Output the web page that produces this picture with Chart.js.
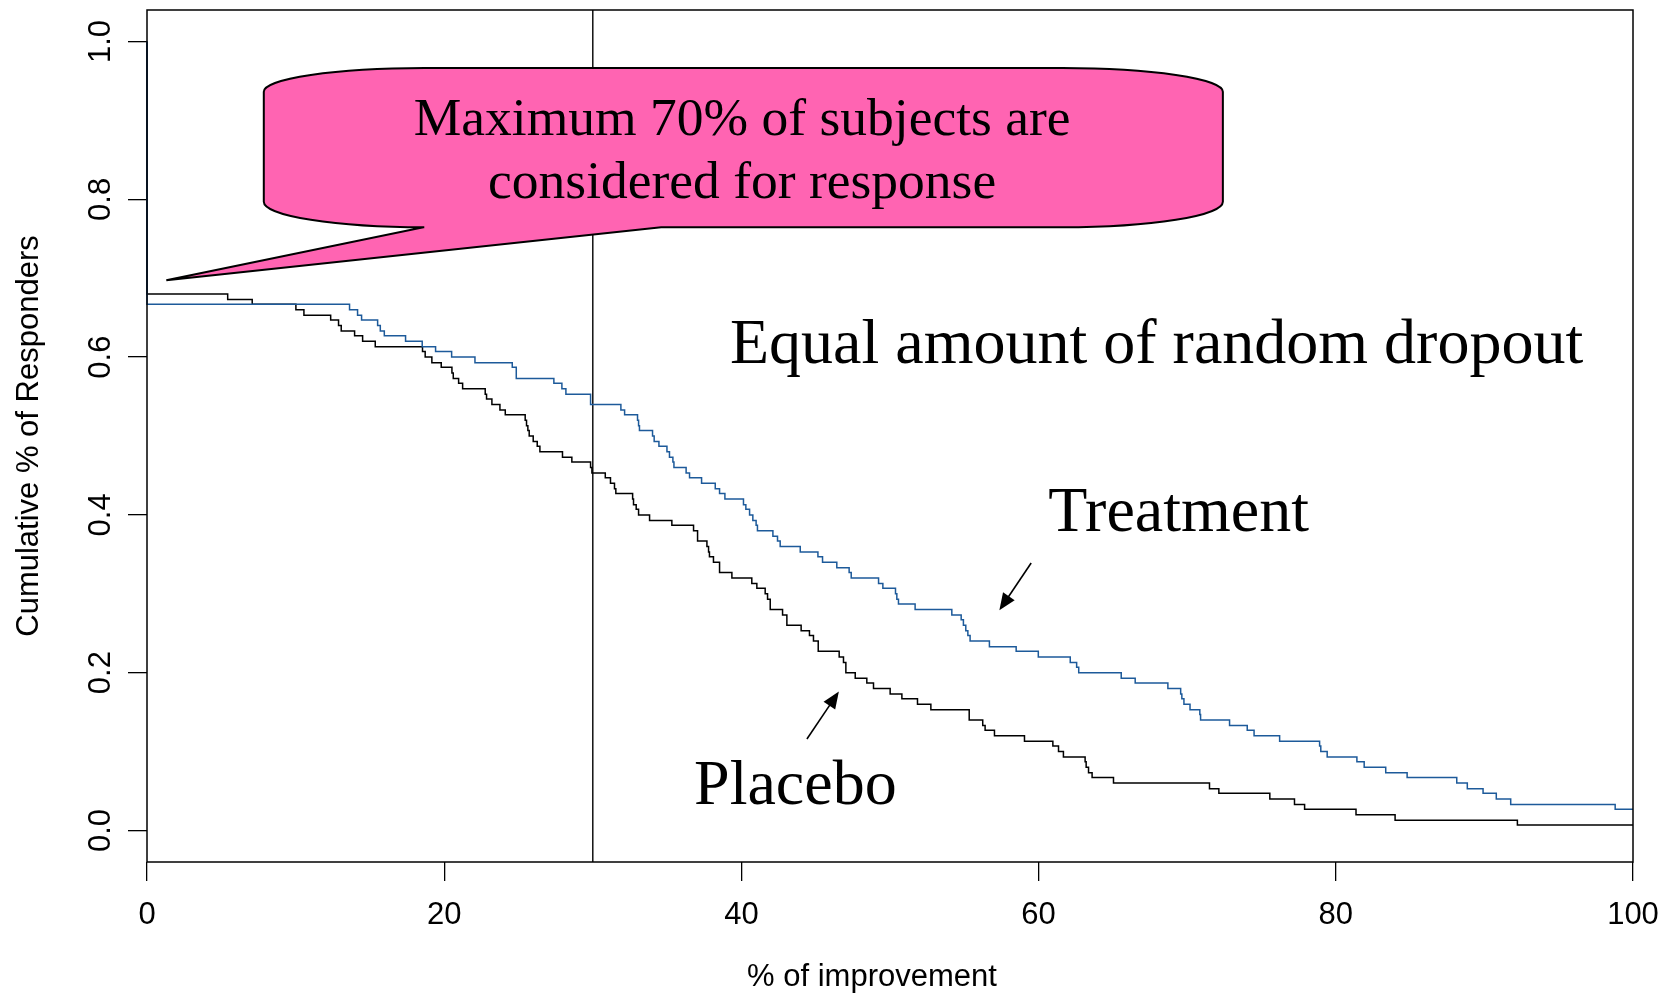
<!DOCTYPE html>
<html>
<head>
<meta charset="utf-8">
<script src="https://cdn.jsdelivr.net/npm/chart.js@4.4.1/dist/chart.umd.min.js"></script>
<style>
  body { margin: 0; background: #fff; }
  #wrap { width: 1667px; height: 993px; }
</style>
</head>
<body>
<div id="wrap"><canvas id="responderChart" width="1667" height="993"></canvas></div>
<script>
// % of improvement at which the cumulative responder proportion steps down
const treatmentX = [0, 0, 13.63, 14.17, 14.44, 15.52, 15.70, 15.97, 17.40, 18.52, 19.42, 20.50, 22.07, 24.58, 24.85,
    27.38, 27.92, 28.19, 29.85, 31.89, 32.14, 33.01, 33.08, 33.14, 34.02, 34.13, 34.45, 34.99, 35.16, 35.39, 35.46,
    36.28, 36.51, 37.32, 38.24, 38.53, 38.89, 40.14, 40.30, 40.55, 40.77, 40.99, 41.08, 42.12, 42.43, 42.61, 43.96,
    45.15, 45.46, 46.42, 47.25, 47.39, 49.23, 49.52, 50.37, 50.46, 50.57, 51.69, 54.16, 54.79, 54.94, 55.10, 55.24,
    55.39, 56.69, 58.49, 59.98, 62.13, 62.56, 62.70, 65.56, 66.50, 68.70, 69.56, 69.64, 69.78, 70.19, 70.85, 70.90,
    72.85, 74.04, 74.50, 76.22, 78.91, 78.99, 79.42, 81.42, 81.91, 83.36, 84.80, 88.14, 88.85, 89.91, 90.80, 91.77,
    98.80, 100];
const treatmentY = [1.000, 0.667, 0.660, 0.653, 0.647, 0.640, 0.633, 0.627, 0.620, 0.613, 0.607, 0.600, 0.593, 0.587, 0.573,
    0.567, 0.560, 0.553, 0.540, 0.533, 0.527, 0.520, 0.513, 0.507, 0.500, 0.493, 0.487, 0.480, 0.473, 0.467, 0.460,
    0.453, 0.447, 0.440, 0.433, 0.427, 0.420, 0.413, 0.407, 0.400, 0.393, 0.387, 0.380, 0.373, 0.367, 0.360, 0.353,
    0.347, 0.340, 0.333, 0.327, 0.320, 0.313, 0.307, 0.300, 0.293, 0.287, 0.280, 0.273, 0.267, 0.260, 0.253, 0.247,
    0.240, 0.233, 0.227, 0.220, 0.213, 0.207, 0.200, 0.193, 0.187, 0.180, 0.173, 0.167, 0.160, 0.153, 0.147, 0.140,
    0.133, 0.127, 0.120, 0.113, 0.107, 0.100, 0.093, 0.087, 0.080, 0.073, 0.067, 0.060, 0.053, 0.047, 0.040, 0.033,
    0.027, 0.027];

const placeboX = [0, 0, 5.43, 7.08, 10.02, 10.56, 12.36, 12.89, 13.07, 13.97, 14.51, 15.36, 18.54, 18.72, 19.17,
    19.80, 20.52, 20.61, 20.97, 21.24, 22.76, 22.85, 23.21, 23.75, 24.11, 25.45, 25.54, 25.63, 25.72, 25.99, 26.26,
    26.44, 27.96, 28.59, 29.85, 29.94, 30.84, 31.19, 31.46, 31.55, 32.68, 32.74, 32.92, 33.08, 33.82, 35.32, 36.78,
    37.05, 37.68, 37.79, 37.85, 38.12, 38.53, 39.36, 40.70, 41.04, 41.60, 41.76, 41.94, 42.77, 43.06, 44.02, 44.58,
    44.85, 45.17, 46.58, 46.87, 47.03, 47.66, 48.44, 48.89, 50.01, 50.80, 51.85, 52.75, 55.33, 56.24, 56.40, 57.03,
    59.05, 60.96, 61.34, 61.67, 63.13, 63.20, 63.36, 63.60, 65.04, 71.50, 72.13, 75.56, 77.22, 77.90, 81.36, 83.99,
    92.22, 100];
const placeboY = [1.000, 0.680, 0.673, 0.667, 0.660, 0.653, 0.647, 0.640, 0.633, 0.627, 0.620, 0.613, 0.607, 0.600, 0.593,
    0.587, 0.580, 0.573, 0.567, 0.560, 0.553, 0.547, 0.540, 0.533, 0.527, 0.520, 0.513, 0.507, 0.500, 0.493, 0.487,
    0.480, 0.473, 0.467, 0.460, 0.453, 0.447, 0.440, 0.433, 0.427, 0.420, 0.413, 0.407, 0.400, 0.393, 0.387, 0.380,
    0.367, 0.360, 0.353, 0.347, 0.340, 0.327, 0.320, 0.313, 0.307, 0.300, 0.293, 0.280, 0.273, 0.260, 0.253, 0.247,
    0.240, 0.227, 0.220, 0.213, 0.200, 0.193, 0.187, 0.180, 0.173, 0.167, 0.160, 0.153, 0.140, 0.133, 0.127, 0.120,
    0.113, 0.107, 0.100, 0.093, 0.087, 0.080, 0.073, 0.067, 0.060, 0.053, 0.047, 0.040, 0.033, 0.027, 0.020, 0.013,
    0.007, 0.007];

const xTicks = [0, 20, 40, 60, 80, 100];
const xTickLabels = ['0', '20', '40', '60', '80', '100'];
const yTicks = [0, 0.2, 0.4, 0.6, 0.8, 1.0];
const yTickLabels = ['0.0', '0.2', '0.4', '0.6', '0.8', '1.0'];

// responder cut-off drawn as a vertical reference line
const cutoff = 30;

const SANS = '"Liberation Sans", Arial, sans-serif';
const SERIF = '"Liberation Serif", "Times New Roman", serif';
const AXIS_FONT = 31;

// callout and labels, placed in data units
const notes = [
    { text: 'Equal amount of random dropout', x: 67.94, y: 0.593 },
    { text: 'Treatment', x: 69.42, y: 0.379 },
    { text: 'Placebo', x: 43.63, y: 0.034 }
];
const arrows = [
    { from: [59.5, 0.339], to: [57.36, 0.279] },
    { from: [44.41, 0.116], to: [46.56, 0.176] }
];
const bubble = {
    left: 7.86, right: 72.4, top: 0.9665, bottom: 0.7645, sideTop: 0.9365, sideBottom: 0.797,
    curve: 10.8, tailLeft: 18.6, tailRight: 34.6, tip: [1.3, 0.6975],
    lines: ['Maximum 70% of subjects are', 'considered for response'],
    textX: 40.05, textY: [0.8815, 0.8015]
};

function toPoints(xs, ys) {
    return xs.map((x, i) => ({ x: x, y: ys[i] }));
}

//draw the cut-off line under the curves
const cutoffLine = {
    id: 'cutoffLine',
    beforeDatasetsDraw(chart) {
        const { ctx, chartArea, scales } = chart;
        const px = scales.x.getPixelForValue(cutoff);
        ctx.save();
        ctx.strokeStyle = '#000';
        ctx.lineWidth = 1.4;
        ctx.beginPath();
        ctx.moveTo(px, chartArea.top);
        ctx.lineTo(px, chartArea.bottom);
        ctx.stroke();
        ctx.restore();
    }
};

function drawArrow(ctx, x1, y1, x2, y2) {
    const ang = Math.atan2(y2 - y1, x2 - x1);
    const len = 17, half = 7;
    ctx.beginPath();
    ctx.moveTo(x1, y1);
    ctx.lineTo(x2 - Math.cos(ang) * len * 0.8, y2 - Math.sin(ang) * len * 0.8);
    ctx.stroke();
    ctx.beginPath();
    ctx.moveTo(x2, y2);
    ctx.lineTo(x2 - Math.cos(ang) * len - Math.sin(ang) * half, y2 - Math.sin(ang) * len + Math.cos(ang) * half);
    ctx.lineTo(x2 - Math.cos(ang) * len + Math.sin(ang) * half, y2 - Math.sin(ang) * len - Math.cos(ang) * half);
    ctx.closePath();
    ctx.fill();
}

//callout bubble, text labels, arrows, box and rotated y tick labels
const annotations = {
    id: 'annotations',
    afterDatasetsDraw(chart) {
        const { ctx, chartArea } = chart;
        const sx = v => chart.scales.x.getPixelForValue(v);
        const sy = v => chart.scales.y.getPixelForValue(v);
        ctx.save();

        // bubble with rounded top and bottom, tail pointing at the 70% level
        const L = sx(bubble.left), R = sx(bubble.right);
        const T = sy(bubble.top), B = sy(bubble.bottom);
        const ST = sy(bubble.sideTop), SB = sy(bubble.sideBottom);
        const rx = sx(bubble.curve) - sx(0);
        const ryT = ST - T, ryB = B - SB;
        ctx.beginPath();
        ctx.moveTo(L, SB);
        ctx.lineTo(L, ST);
        ctx.ellipse(L + rx, ST, rx, ryT, 0, Math.PI, 1.5 * Math.PI);
        ctx.lineTo(R - rx, T);
        ctx.ellipse(R - rx, ST, rx, ryT, 0, 1.5 * Math.PI, 2 * Math.PI);
        ctx.lineTo(R, SB);
        ctx.ellipse(R - rx, SB, rx, ryB, 0, 0, 0.5 * Math.PI);
        ctx.lineTo(sx(bubble.tailRight), B);
        ctx.lineTo(sx(bubble.tip[0]), sy(bubble.tip[1]));
        ctx.lineTo(sx(bubble.tailLeft), B);
        ctx.ellipse(L + rx, SB, rx, ryB, 0, 0.5 * Math.PI, Math.PI);
        ctx.closePath();
        ctx.fillStyle = '#FF64B2';
        ctx.fill();
        ctx.strokeStyle = '#000';
        ctx.lineWidth = 2;
        ctx.lineJoin = 'miter';
        ctx.stroke();

        ctx.fillStyle = '#000';
        ctx.textAlign = 'center';
        ctx.textBaseline = 'alphabetic';
        ctx.font = '53.5px ' + SERIF;
        bubble.lines.forEach((line, i) => {
            ctx.fillText(line, sx(bubble.textX), sy(bubble.textY[i]));
        });

        ctx.font = '64px ' + SERIF;
        notes.forEach(n => ctx.fillText(n.text, sx(n.x), sy(n.y)));

        ctx.lineWidth = 1.6;
        arrows.forEach(a => drawArrow(ctx, sx(a.from[0]), sy(a.from[1]), sx(a.to[0]), sy(a.to[1])));

        // plot frame
        ctx.lineWidth = 1.5;
        ctx.strokeRect(chartArea.left, chartArea.top, chartArea.right - chartArea.left, chartArea.bottom - chartArea.top);

        // y tick labels run parallel to the axis
        ctx.font = AXIS_FONT + 'px ' + SANS;
        ctx.textBaseline = 'middle';
        yTicks.forEach((v, i) => {
            ctx.save();
            ctx.translate(chartArea.left - 46, sy(v));
            ctx.rotate(-Math.PI / 2);
            ctx.fillText(yTickLabels[i], 0, 0);
            ctx.restore();
        });

        ctx.fillText('% of improvement', chartArea.left + 725, chartArea.bottom + 115);
        ctx.restore();
    }
};

const ctx = document.getElementById('responderChart').getContext('2d');
new Chart(ctx, {
    type: 'line',
    data: {
        datasets: [
            {
                label: 'Treatment',
                data: toPoints(treatmentX, treatmentY),
                borderColor: '#1d5a9a',
                borderWidth: 1.5,
                stepped: 'before',
                pointRadius: 0,
                fill: false,
                clip: false
            },
            {
                label: 'Placebo',
                data: toPoints(placeboX, placeboY),
                borderColor: '#000',
                borderWidth: 1.5,
                stepped: 'before',
                pointRadius: 0,
                fill: false,
                clip: false
            }
        ]
    },
    options: {
        responsive: false,
        animation: false,
        devicePixelRatio: 1,
        layout: { padding: { top: 10, right: 34, left: 0, bottom: 0 } },
        plugins: {
            legend: { display: false },
            tooltip: { enabled: false }
        },
        scales: {
            x: {
                type: 'linear',
                min: 0,
                max: 100,
                afterBuildTicks: s => { s.ticks = xTicks.map(v => ({ value: v })); },
                afterFit: s => {
                    s.height = 131;
                    s.paddingLeft = 0;
                    s.paddingRight = 0;
                },
                grid: { drawOnChartArea: false, tickLength: 19, color: '#000', lineWidth: 1.3 },
                border: { display: false },
                ticks: {
                    color: '#000',
                    font: { family: SANS, size: AXIS_FONT },
                    padding: 16,
                    maxRotation: 0,
                    autoSkip: false,
                    callback: (v, i) => xTickLabels[i]
                }
            },
            y: {
                type: 'linear',
                min: -0.04,
                max: 1.04,
                afterBuildTicks: s => { s.ticks = yTicks.map(v => ({ value: v })); },
                afterFit: s => { s.width = 147; },
                grid: { drawOnChartArea: false, tickLength: 19, color: '#000', lineWidth: 1.3 },
                border: { display: false },
                ticks: { display: false },
                title: {
                    display: true,
                    text: 'Cumulative % of Responders',
                    color: '#000',
                    font: { family: SANS, size: AXIS_FONT },
                    padding: { top: 11, bottom: 0 }
                }
            }
        }
    },
    plugins: [cutoffLine, annotations]
});
</script>
</body>
</html>
